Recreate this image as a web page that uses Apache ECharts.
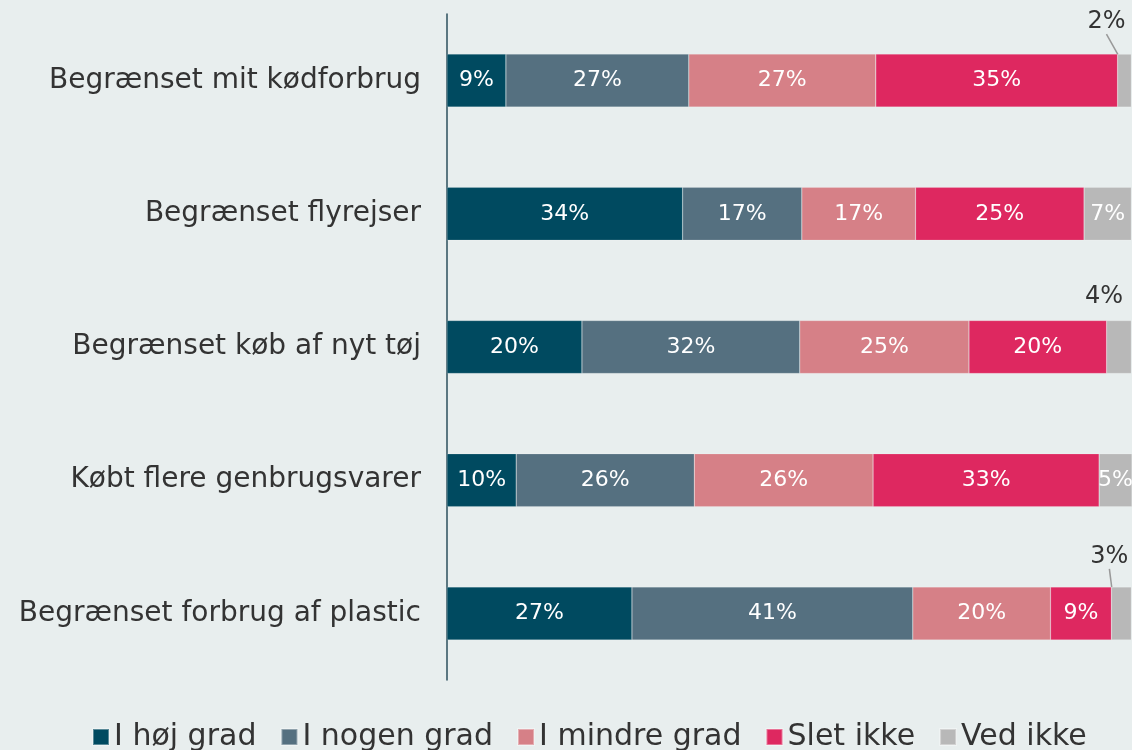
<!DOCTYPE html>
<html>
<head>
<meta charset="utf-8">
<script src="https://cdn.jsdelivr.net/npm/echarts@6/dist/echarts.min.js"></script>
<style>
  html, body { margin: 0; padding: 0; background: #e8eeee; }
  #chart { width: 1132px; height: 750px; }
</style>
</head>
<body>
<div id="chart"></div>
<script>
var chart = echarts.init(document.getElementById('chart'));

const categories = ['Begrænset mit kødforbrug', 'Begrænset flyrejser', 'Begrænset køb af nyt tøj', 'Købt flere genbrugsvarer', 'Begrænset forbrug af plastic'];
const seriesNames = ['I høj grad', 'I nogen grad', 'I mindre grad', 'Slet ikke', 'Ved ikke'];
const hojGrad = [8.6, 34.4, 19.7, 10.1, 27.0];
const nogenGrad = [26.7, 17.4, 31.8, 26.0, 41.0];
const mindreGrad = [27.3, 16.6, 24.7, 26.1, 20.1];
const sletIkke = [35.3, 24.6, 20.1, 33.0, 8.9];
const vedIkke = [2.0, 6.9, 3.6, 4.8, 2.9];

const colorList = ['#004a60', '#557080', '#d68087', '#de2860', '#b8b8b8'];
const allValues = [hojGrad, nogenGrad, mindreGrad, sletIkke, vedIkke];

// label offsets for the small outside labels (by row)
const outsideShift = { 0: [-18, -15], 2: [-15, -7], 4: [-12, -13] };

function pct(p) {
    return Math.round(p.value) + '%';
}

var series = allValues.map(function (vals, i) {
    return {
        name: seriesNames[i],
        type: 'bar',
        stack: 'total',
        barWidth: 53,
        data: vals,
        itemStyle: { color: colorList[i], borderColor: 'rgba(255,255,255,0.35)', borderWidth: 0.5 },
        label: {
            show: true,
            color: '#fff',
            fontSize: 22,
            fontFamily: 'DejaVu Sans',
            formatter: pct
        }
    };
});

// small "Ved ikke" values get an outside label with a guide line
var last = series[4];
last.data = vedIkke.map(function (v, idx) {
    if (outsideShift[idx]) {
        return {
            value: v,
            label: { position: 'top', color: '#333', fontSize: 24 },
            labelLine: { show: idx !== 2 }
        };
    }
    return v;
});
last.labelLine = { show: true, lineStyle: { color: '#999', width: 1.5 } };
last.labelLayout = function (params) {
    var s = outsideShift[params.dataIndex];
    if (s) {
        return { dx: s[0], dy: s[1] };
    }
};

option = {
    backgroundColor: '#e8eeee',
    color: colorList,
    textStyle: { fontFamily: 'DejaVu Sans' },
    grid: { left: 447, right: 0, top: 14, bottom: 70 },
    legend: {
        data: seriesNames,
        bottom: -7,
        left: 87,
        icon: 'rect',
        itemWidth: 16,
        itemHeight: 16,
        itemGap: 24,
        textStyle: { fontSize: 30, color: '#333', fontFamily: 'DejaVu Sans' }
    },
    xAxis: {
        type: 'value',
        min: 0,
        max: 100,
        show: false
    },
    yAxis: {
        type: 'category',
        data: categories,
        inverse: true,
        axisTick: { show: false },
        axisLine: { show: true, lineStyle: { color: '#2d4f5c', width: 1.5 } },
        axisLabel: {
            fontSize: 28,
            color: '#333',
            margin: 26,
            fontFamily: 'DejaVu Sans'
        }
    },
    series: series
};

chart.setOption(option);

window.onresize = function () {
    chart.resize();
}
</script>
</body>
</html>
